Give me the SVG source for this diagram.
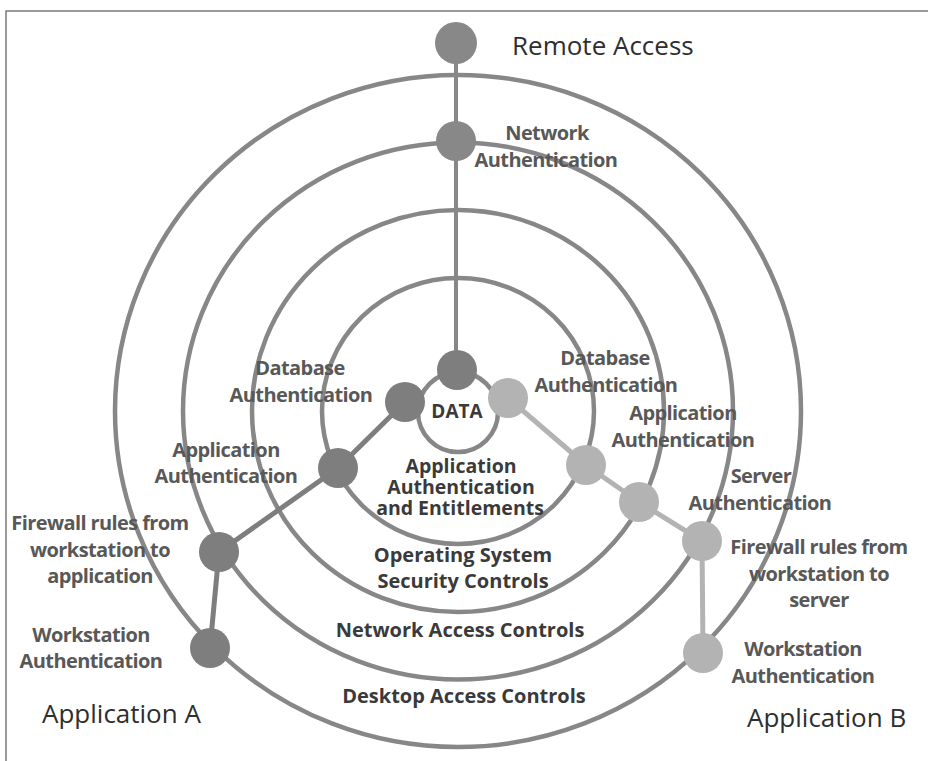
<svg xmlns="http://www.w3.org/2000/svg" width="928" height="761" viewBox="0 0 928 761">
<style>
.ring{fill:none;stroke:#878787;stroke-width:4.5}
.frame{fill:none;stroke:#7a7a7a;stroke-width:1.5}
.cd{fill:none;stroke:#7e7e7e;stroke-width:5;stroke-linejoin:round}
.cl{fill:none;stroke:#b3b3b3;stroke-width:5;stroke-linejoin:round}
.cv{fill:none;stroke:#878787;stroke-width:4}
.nd{fill:#7e7e7e}
.nl{fill:#b3b3b3}
.nm{fill:#888888}
.lbl{font-family:"Open Sans","Noto Sans","Liberation Sans",sans-serif;font-weight:700;font-size:20px;fill:#585858;text-anchor:middle;letter-spacing:-0.6px}
.rl{font-family:"Open Sans","Noto Sans","Liberation Sans",sans-serif;font-weight:700;font-size:20px;fill:#3a3a3a;text-anchor:middle}
.big{font-family:"Open Sans","Noto Sans","Liberation Sans",sans-serif;font-weight:400;font-size:26px;fill:#2e2e2e}
</style>
<path class="frame" d="M6,761 V11 H928"/>
<g id="rings">
  <g id="ring-desktop"><ellipse class="ring" cx="458" cy="411" rx="343" ry="336"/><text class="rl" x="464" y="703">Desktop Access Controls</text></g>
  <g id="ring-network"><ellipse class="ring" cx="458" cy="411" rx="275" ry="268.5"/><text class="rl" x="460" y="637">Network Access Controls</text></g>
  <g id="ring-os"><ellipse class="ring" cx="458" cy="411" rx="206" ry="201"/><text class="rl" x="463" y="562">Operating System</text><text class="rl" x="463" y="588">Security Controls</text></g>
  <g id="ring-app"><ellipse class="ring" cx="458" cy="411" rx="136" ry="133"/><text class="rl" x="461" y="473" style="font-size:19.5px">Application</text><text class="rl" x="461" y="494" style="font-size:19.5px">Authentication</text><text class="rl" x="460" y="515" style="font-size:19.5px">and Entitlements</text></g>
  <g id="data"><circle class="ring" cx="458" cy="412" r="40"/><text class="rl" x="457" y="418" style="font-size:19px">DATA</text></g>
</g>
<g id="connectors">
  <line class="cv" x1="456" y1="43" x2="456" y2="370"/>
  <polyline class="cd" points="405,402 338,468 219,552 210,648"/>
  <polyline class="cl" points="508,398 586,465 639,502 702,541 703,653"/>
</g>
<g id="remote-access"><circle class="nm" cx="456" cy="43" r="21"/><text class="big" x="512" y="55">Remote Access</text></g>
<g id="network-auth"><circle class="nm" cx="456" cy="141" r="20"/><text class="lbl" x="547" y="140">Network</text><text class="lbl" x="546" y="167">Authentication</text></g>
<g id="data-node"><circle class="nd" cx="457" cy="370" r="20"/></g>
<g id="a-db"><circle class="nd" cx="405" cy="402" r="20"/><text class="lbl" x="300" y="375">Database</text><text class="lbl" x="301" y="402">Authentication</text></g>
<g id="a-app"><circle class="nd" cx="338" cy="468" r="20"/><text class="lbl" x="226" y="457">Application</text><text class="lbl" x="226" y="483">Authentication</text></g>
<g id="a-fw"><circle class="nd" cx="219" cy="552" r="20"/><text class="lbl" x="100" y="530">Firewall rules from</text><text class="lbl" x="100" y="557">workstation to</text><text class="lbl" x="100" y="583">application</text></g>
<g id="a-ws"><circle class="nd" cx="210" cy="648" r="20"/><text class="lbl" x="91" y="642">Workstation</text><text class="lbl" x="91" y="668">Authentication</text></g>
<g id="b-db"><circle class="nl" cx="508" cy="398" r="20"/><text class="lbl" x="605" y="365">Database</text><text class="lbl" x="606" y="392">Authentication</text></g>
<g id="b-app"><circle class="nl" cx="586" cy="465" r="20"/><text class="lbl" x="683" y="420">Application</text><text class="lbl" x="683" y="447">Authentication</text></g>
<g id="b-srv"><circle class="nl" cx="639" cy="502" r="20"/><text class="lbl" x="761" y="483">Server</text><text class="lbl" x="760" y="510">Authentication</text></g>
<g id="b-fw"><circle class="nl" cx="702" cy="541" r="20"/><text class="lbl" x="819" y="554">Firewall rules from</text><text class="lbl" x="819" y="581">workstation to</text><text class="lbl" x="819" y="607">server</text></g>
<g id="b-ws"><circle class="nl" cx="703" cy="653" r="20"/><text class="lbl" x="803" y="656">Workstation</text><text class="lbl" x="803" y="683">Authentication</text></g>
<g id="app-a"><text class="big" x="42" y="723">Application A</text></g>
<g id="app-b"><text class="big" x="747" y="727">Application B</text></g>
</svg>
